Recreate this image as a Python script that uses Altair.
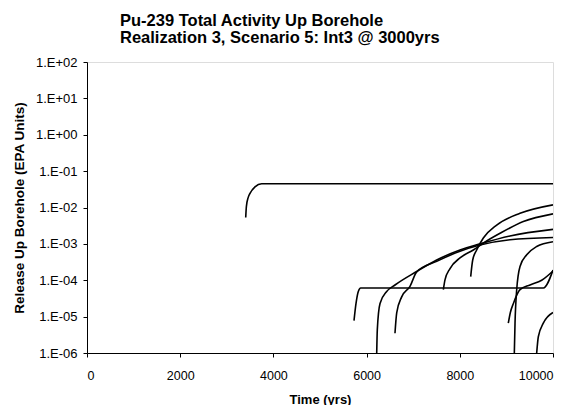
import altair as alt
import pandas as pd

title_lines = ["Pu-239 Total Activity Up Borehole", "Realization 3, Scenario 5: Int3 @ 3000yrs"]
x_title = "Time (yrs)"
y_title = "Release Up Borehole (EPA Units)"

x_ticks = [0, 2000, 4000, 6000, 8000, 10000]
y_ticks = [1e-6, 1e-5, 1e-4, 1e-3, 1e-2, 1e-1, 1e0, 1e1, 1e2]
y_tick_labels = ["1.E-06", "1.E-05", "1.E-04", "1.E-03", "1.E-02", "1.E-01", "1.E+00", "1.E+01", "1.E+02"]

# series (time in yrs, release in EPA units)
a_x = [3406, 3420, 3460, 3498, 3605, 3749, 10000]
a_y = [5.3e-3, 1.06e-2, 1.9e-2, 2.45e-2, 3.7e-2, 4.5e-2, 4.5e-2]

b_x = [5730, 5773, 5822, 5873, 9792, 10000]
b_y = [7.8e-6, 2.3e-5, 4.9e-5, 6.1e-5, 6.1e-5, 1.9e-4]

c1_x = [6217, 6230, 6288, 6431, 6609, 7075, 7504, 8004, 8433, 9077, 10000]
c1_y = [1e-6, 4.4e-6, 2.3e-5, 4.9e-5, 7.4e-5, 1.74e-4, 3.6e-4, 6.8e-4, 1.0e-3, 1.65e-3, 2.5e-3]

c2_x = [6609, 6646, 6753, 6931, 7075, 7504, 8004, 8433, 9077, 10000]
c2_y = [3.5e-6, 1.26e-5, 3.5e-5, 6.8e-5, 1.7e-4, 3.3e-4, 6.3e-4, 9.3e-4, 1.3e-3, 1.5e-3]

c3_x = [7647, 7682, 7790, 8004, 8290, 8505, 8863, 9363, 10000]
c3_y = [5.5e-5, 1.02e-4, 2.1e-4, 4.1e-4, 6.8e-4, 1.05e-3, 1.95e-3, 4.1e-3, 6.7e-3]

c4_x = [8234, 8277, 8362, 8505, 8792, 9292, 10000]
c4_y = [1.26e-4, 3.6e-4, 6.8e-4, 1.45e-3, 3.3e-3, 6.9e-3, 1.18e-2]

c5_x = [9170, 9185, 9221, 9292, 9436, 9650, 10000]
c5_y = [1e-6, 6.6e-6, 5.5e-5, 2.4e-4, 5.0e-4, 8.5e-4, 1.15e-3]

c6_x = [9041, 9085, 9150, 9292, 9506, 9757, 10000]
c6_y = [6.6e-6, 1.3e-5, 2.3e-5, 5.5e-5, 7.4e-5, 1.0e-4, 1.8e-4]

c7_x = [9650, 9685, 9792, 10000]
c7_y = [1e-6, 2.8e-6, 6.6e-6, 1.3e-5]

series = {
    "A": (a_x, a_y), "B": (b_x, b_y), "C1": (c1_x, c1_y), "C2": (c2_x, c2_y),
    "C3": (c3_x, c3_y), "C4": (c4_x, c4_y), "C5": (c5_x, c5_y),
    "C6": (c6_x, c6_y), "C7": (c7_x, c7_y),
}
rows = []
for name, (xs, ys) in series.items():
    for i, (xv, yv) in enumerate(zip(xs, ys)):
        rows.append({"series": name, "order": i, "time": xv, "release": yv})
df = pd.DataFrame(rows)

label_expr = "[" + ",".join("'%s'" % s for s in y_tick_labels) + "][round(log(datum.value)/LN10)+6]"

FONT = "Liberation Sans"

chart = alt.Chart(df).mark_line(color="black", strokeWidth=1.6, interpolate="monotone", clip=True).encode(
    x=alt.X("time:Q", scale=alt.Scale(domain=[0, 10000], nice=False),
            axis=alt.Axis(values=x_ticks, title=x_title, grid=False, format="d",
                          labelFontSize=12.5, labelFont=FONT, labelColor="black",
                          tickSize=4, labelPadding=12, domainColor="black", tickColor="black",
                          titleFont=FONT, titleFontSize=13, titleFontWeight="bold",
                          titleColor="black", titleBaseline="alphabetic", titleY=50)),
    y=alt.Y("release:Q", scale=alt.Scale(type="log", domain=[1e-6, 100], nice=False),
            axis=alt.Axis(values=y_ticks, title=y_title, grid=False, labelExpr=label_expr,
                          labelFontSize=13, labelFont=FONT, labelColor="black",
                          tickSize=4, labelPadding=6, domainColor="black", tickColor="black",
                          titleFont=FONT, titleFontSize=13.5, titleFontWeight="bold",
                          titleColor="black", titleBaseline="alphabetic", titleX=-64)),
    detail="series:N",
    order="order:Q",
).properties(
    width=466, height=291,
    title=alt.TitleParams(text=title_lines, anchor="start", frame="group", dx=33, fontSize=16.5,
                          fontWeight="bold", font=FONT, color="black", offset=10, lineHeight=16.5),
    autosize=alt.AutoSizeParams(type="none"),
    padding={"left": 79, "top": 54, "right": 10, "bottom": 52},
).configure_view(stroke="black", strokeWidth=1.5).configure(background="white")

chart.save("out.html", embed_options={"renderer": "svg", "actions": False})
